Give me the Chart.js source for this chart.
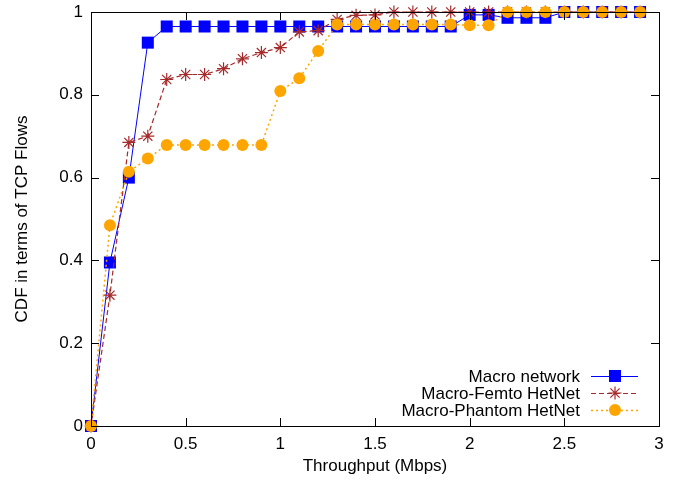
<!DOCTYPE html>
<html>
<head>
<meta charset="utf-8">
<script src="https://cdn.jsdelivr.net/npm/chart.js@4"></script>
<style>
  html, body { margin: 0; padding: 0; background: #fff; }
  canvas { display: block; }
</style>
</head>
<body>
<canvas id="grafico" width="680" height="483"></canvas>
<script>
// valores
const throughput = [0, 0.1, 0.2, 0.3, 0.4, 0.5, 0.6, 0.7, 0.8, 0.9,
                    1.0, 1.1, 1.2, 1.3, 1.4, 1.5, 1.6, 1.7, 1.8, 1.9,
                    2.0, 2.1, 2.2, 2.3, 2.4, 2.5, 2.6, 2.7, 2.8, 2.9];
const macroNet = [0, 0.395, 0.600, 0.926, 0.965, 0.965, 0.965, 0.965, 0.965, 0.965,
                  0.965, 0.965, 0.965, 0.965, 0.965, 0.965, 0.965, 0.965, 0.965, 0.965,
                  0.993, 0.993, 0.986, 0.986, 0.986, 1, 1, 1, 1, 1];
const femtoNet = [0, 0.316, 0.685, 0.700, 0.837, 0.849, 0.849, 0.863, 0.887, 0.902,
                  0.914, 0.952, 0.955, 0.982, 0.992, 0.993, 1, 1, 1, 1,
                  1, 1, 1, 1, 1, 1, 1, 1, 1, 1];
const phantomNet = [0, 0.485, 0.614, 0.646, 0.679, 0.679, 0.679, 0.679, 0.679, 0.679,
                    0.809, 0.840, 0.906, 0.970, 0.970, 0.970, 0.970, 0.970, 0.970, 0.970,
                    0.968, 0.968, 1, 1, 1, 1, 1, 1, 1, 1];
const seriesNames = ["Macro network", "Macro-Femto HetNet", "Macro-Phantom HetNet"];
const xTicks = [0, 0.5, 1, 1.5, 2, 2.5, 3];
const yTicks = [0, 0.2, 0.4, 0.6, 0.8, 1];

const FUENTE = "Liberation Sans, Arial, sans-serif";
const TAM = 17;

function puntos(ys) {
    return throughput.map((x, i) => ({ x: x, y: ys[i] }));
}

function etiqueta(v) {
    return String(Math.round(v * 10) / 10);
}

// marco, ticks hacia dentro, titulos y leyenda al estilo gnuplot
const marcoGnuplot = {
    id: "marcoGnuplot",
    afterDraw(chart) {
        const ctx = chart.ctx;
        const a = chart.chartArea;
        const sx = chart.scales.x, sy = chart.scales.y;
        const L = 8;
        ctx.save();
        ctx.strokeStyle = "#000";
        ctx.lineWidth = 1;
        ctx.setLineDash([]);
        ctx.beginPath();
        xTicks.forEach(v => {
            const px = Math.round(sx.getPixelForValue(v)) + 0.5;
            ctx.moveTo(px, a.bottom); ctx.lineTo(px, a.bottom - L);
            ctx.moveTo(px, a.top); ctx.lineTo(px, a.top + L);
        });
        yTicks.forEach(v => {
            const py = Math.round(sy.getPixelForValue(v)) + 0.5;
            ctx.moveTo(a.left, py); ctx.lineTo(a.left + L, py);
            ctx.moveTo(a.right, py); ctx.lineTo(a.right - L, py);
        });
        ctx.stroke();
        ctx.strokeRect(Math.round(a.left) + 0.5, Math.round(a.top) + 0.5,
                       Math.round(a.right - a.left), Math.round(a.bottom - a.top));

        ctx.fillStyle = "#000";
        ctx.font = TAM + "px " + FUENTE;
        ctx.textAlign = "center";
        ctx.textBaseline = "middle";
        ctx.fillText("Throughput (Mbps)", (a.left + a.right) / 2, 466);
        ctx.save();
        ctx.translate(22, (a.top + a.bottom) / 2);
        ctx.rotate(-Math.PI / 2);
        ctx.fillText("CDF in terms of TCP Flows", 0, 0);
        ctx.restore();

        // leyenda
        const filas = [376, 393, 410];
        chart.data.datasets.forEach((ds, i) => {
            const y = filas[i];
            ctx.textAlign = "right";
            ctx.fillStyle = "#000";
            ctx.fillText(ds.label, 580, y + 1);
            ctx.strokeStyle = ds.borderColor;
            ctx.lineWidth = ds.borderWidth;
            ctx.setLineDash(ds.borderDash || []);
            ctx.beginPath();
            ctx.moveTo(591, y + 0.5);
            ctx.lineTo(638, y + 0.5);
            ctx.stroke();
            ctx.setLineDash([]);
            ctx.fillStyle = ds.pointBackgroundColor;
            ctx.strokeStyle = ds.pointBorderColor;
            ctx.lineWidth = ds.pointBorderWidth;
            Chart.helpers.drawPoint(ctx, {
                pointStyle: ds.pointStyle, radius: ds.pointRadius,
                rotation: 0, borderWidth: ds.pointBorderWidth
            }, 615, y);
        });
        ctx.restore();
    }
};

const ctx = document.getElementById("grafico");
new Chart(ctx, {
    type: "line",
    data: {
        datasets: [
            {
                label: seriesNames[0],
                data: puntos(macroNet),
                borderColor: "#0000ff",
                backgroundColor: "#0000ff",
                borderWidth: 1,
                pointStyle: "rect",
                pointRadius: 8.5,
                pointBackgroundColor: "#0000ff",
                pointBorderColor: "#0000ff",
                pointBorderWidth: 0,
                order: 2,
                clip: false
            },
            {
                label: seriesNames[1],
                data: puntos(femtoNet),
                borderColor: "#a52a2a",
                backgroundColor: "#a52a2a",
                borderWidth: 1.2,
                borderDash: [5, 3],
                pointStyle: "star",
                pointRadius: 6.5,
                pointBackgroundColor: "#a52a2a",
                pointBorderColor: "#a52a2a",
                pointBorderWidth: 1.2,
                order: 1,
                clip: false
            },
            {
                label: seriesNames[2],
                data: puntos(phantomNet),
                borderColor: "#ffa500",
                backgroundColor: "#ffa500",
                borderWidth: 1.5,
                borderDash: [2, 3],
                pointStyle: "circle",
                pointRadius: 6,
                pointBackgroundColor: "#ffa500",
                pointBorderColor: "#ffa500",
                pointBorderWidth: 0,
                order: 0,
                clip: false
            }
        ]
    },
    options: {
        responsive: false,
        animation: false,
        layout: { padding: { left: 0, right: 21, top: 12, bottom: 0 } },
        plugins: {
            legend: { display: false },
            tooltip: { enabled: false }
        },
        elements: { line: { tension: 0, fill: false } },
        scales: {
            x: {
                type: "linear",
                min: 0,
                max: 3,
                afterFit: s => { s.height = 57; s.paddingLeft = 0; s.paddingRight = 0; },
                afterBuildTicks: s => { s.ticks = xTicks.map(v => ({ value: v })); },
                grid: { display: false, drawTicks: false },
                border: { display: false },
                ticks: { font: { family: FUENTE, size: TAM }, color: "#000", padding: 8, maxRotation: 0, callback: etiqueta }
            },
            y: {
                type: "linear",
                min: 0,
                max: 1,
                afterFit: s => { s.width = 91; s.paddingTop = 0; s.paddingBottom = 0; },
                afterBuildTicks: s => { s.ticks = yTicks.map(v => ({ value: v })); },
                grid: { display: false, drawTicks: false },
                border: { display: false },
                ticks: { font: { family: FUENTE, size: TAM }, color: "#000", padding: 8, callback: etiqueta }
            }
        }
    },
    plugins: [marcoGnuplot]
});
</script>
</body>
</html>
